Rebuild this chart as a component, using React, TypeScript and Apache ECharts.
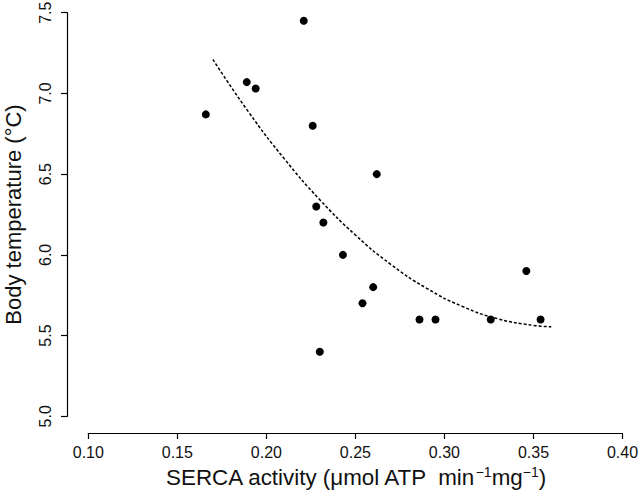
import React, { useEffect, useRef } from "react";
import * as echarts from "echarts";

// Observed points: SERCA activity (x) vs body temperature (y)
const serca = [0.166, 0.189, 0.194, 0.221, 0.226, 0.228, 0.232, 0.230, 0.243, 0.262, 0.254, 0.260, 0.286, 0.295, 0.326, 0.346, 0.354];
const bodyTemp = [6.87, 7.07, 7.03, 7.45, 6.80, 6.30, 6.20, 5.40, 6.00, 6.50, 5.70, 5.80, 5.60, 5.60, 5.60, 5.90, 5.60];

// Fitted curve
const fitX = [0.17, 0.19, 0.21, 0.23, 0.25, 0.27, 0.29, 0.31, 0.33, 0.35, 0.36];
const fitY = [7.21, 6.885, 6.596, 6.342, 6.123, 5.94, 5.793, 5.681, 5.604, 5.563, 5.555];

const xTicks = [0.10, 0.15, 0.20, 0.25, 0.30, 0.35, 0.40];
const yTicks = [5.0, 5.5, 6.0, 6.5, 7.0, 7.5];

const FONT = "Liberation Sans, Arial, sans-serif";

export default function App() {
  const ref = useRef<HTMLDivElement>(null);
  useEffect(() => {
    document.body.style.margin = "0";
    if (!ref.current) return;
    const chart = echarts.init(ref.current, undefined, { renderer: "svg" });
    const axisCommon = {
      axisLine: { show: true, onZero: false, lineStyle: { color: "#000", width: 1.2 } },
      axisTick: { show: true, inside: false, length: 6, lineStyle: { color: "#000", width: 1.2 } },
      splitLine: { show: false },
    };
    chart.setOption({
      animation: false,
      backgroundColor: "#fff",
      grid: {
        left: 88.3,
        right: 18.5,
        top: 12.7,
        bottom: 79.7,
        containLabel: false,
        outerBoundsMode: "none",
      },
      xAxis: {
        type: "value",
        min: xTicks[0],
        max: xTicks[xTicks.length - 1],
        interval: 0.05,
        offset: 16.7,
        ...axisCommon,
        axisLabel: {
          margin: 11,
          color: "#111",
          fontFamily: FONT,
          fontSize: 16,
          formatter: (v: number) => v.toFixed(2),
        },
        name: "{n|SERCA activity (μmol ATP  min}{s|−1}{n|mg}{s|−1}{n|)}",
        nameLocation: "middle",
        nameGap: 28,
        nameTextStyle: {
          color: "#111",
          fontFamily: FONT,
          rich: {
            n: { fontSize: 22.4, fontFamily: FONT, color: "#111", lineHeight: 25 },
            s: { fontSize: 14, fontFamily: FONT, color: "#111", verticalAlign: "top", lineHeight: 15 },
          },
        },
      },
      yAxis: {
        type: "value",
        min: yTicks[0],
        max: yTicks[yTicks.length - 1],
        interval: 0.5,
        offset: 21.3,
        ...axisCommon,
        axisLabel: {
          margin: 14,
          rotate: 90,
          color: "#111",
          fontFamily: FONT,
          fontSize: 16,
          formatter: (v: number) => v.toFixed(1),
        },
        name: "Body temperature (°C)",
        nameLocation: "middle",
        nameGap: 43,
        nameTextStyle: { color: "#111", fontFamily: FONT, fontSize: 22 },
      },
      series: [
        {
          type: "scatter",
          data: serca.map((x, i) => [x, bodyTemp[i]]),
          symbol: "circle",
          symbolSize: 8,
          itemStyle: { color: "#000", opacity: 1 },
          z: 3,
        },
        {
          type: "line",
          data: fitX.map((x, i) => [x, fitY[i]]),
          smooth: true,
          showSymbol: false,
          symbol: "none",
          lineStyle: { color: "#000", width: 1.5, type: [3, 2] },
          z: 2,
        },
      ],
    });
    return () => chart.dispose();
  }, []);
  return <div ref={ref} style={{ width: 641, height: 496 }} />;
}
